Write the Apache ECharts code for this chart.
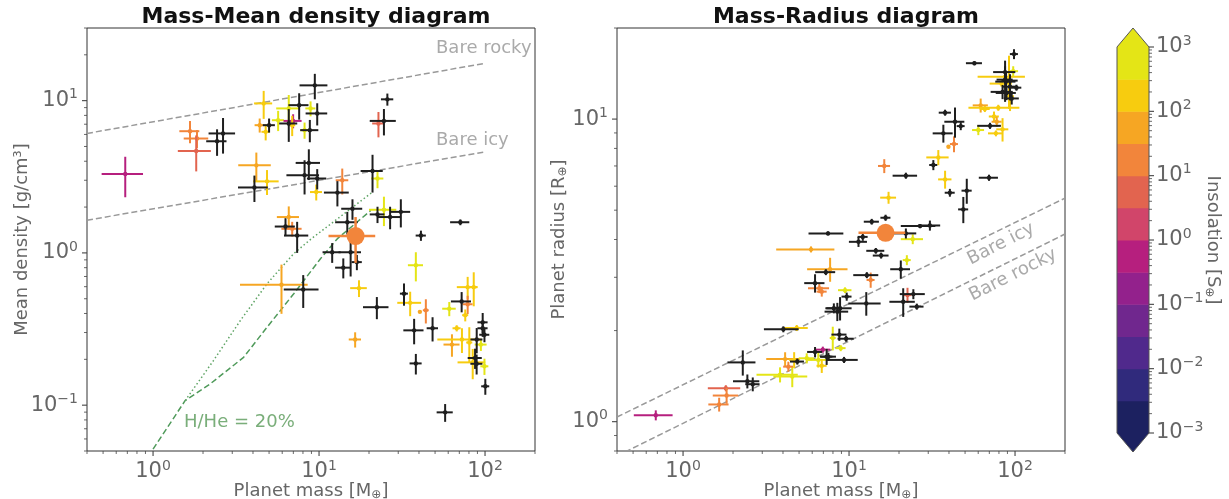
<!DOCTYPE html>
<html>
<head>
<meta charset="utf-8">
<script src="https://cdn.jsdelivr.net/npm/echarts@6.0.0/dist/echarts.min.js"></script>
<style>
  html, body { margin: 0; background: #fff; }
  #chart { width: 1229px; height: 499px; }
</style>
</head>
<body>
<div id="chart"></div>
<script>
// ---------------- data ----------------
// mass-density panel
var leftMass = [0.68, 1.67, 1.84, 1.82, 2.64, 2.43, 4.64, 4.39, 5.0, 4.77, 5.67, 6.57, 6.98, 6.57, 7.59, 8.89, 9.75, 9.43, 8.18, 8.8, 6.89, 25.8, 24.6, 22.8, 4.19, 4.86, 4.08, 8.68, 8.18, 9.75, 9.62, 13.8, 12.9, 21.0, 22.5, 15.9, 14.8, 24.6, 22.5, 26.8, 31.1, 6.57, 6.28, 6.89, 7.38, 5.94, 8.03, 12.0, 15.5, 14.0, 16.9, 17.4, 22.3, 16.5, 32.5, 35.4, 38.3, 41.1, 40.5, 44.0, 37.4, 48.3, 38.3, 57.5, 71.0, 60.9, 72.3, 78.6, 85.5, 78.6, 76.0, 67.5, 63.2, 72.6, 80.4, 96.8, 89.1, 96.8, 99.2, 94.4, 87.1, 89.0, 84.3, 99.2, 100.4];
var leftMassErr = [0.19, 0.23, 0.31, 0.41, 0.48, 0.34, 0.58, 0.3, 0.42, 0.27, 0.47, 1.05, 0.87, 0.82, 1.05, 0.62, 1.45, 1.8, 0.46, 1.1, 0.3, 2.2, 4.4, 1.9, 0.93, 0.85, 0.83, 1.45, 1.82, 1.3, 0.8, 1.2, 2.2, 3.2, 1.9, 2.3, 2.3, 4.6, 2.3, 4.4, 4.3, 1.0, 0.87, 0.96, 1.23, 2.6, 1.9, 1.5, 2.4, 1.5, 1.2, 2.0, 3.9, 1.4, 1.8, 5.8, 4.0, 2.9, 0.5, 1.8, 5.2, 3.8, 3.2, 6.4, 9.4, 5.7, 10, 11, 4.8, 5.5, 3.2, 3.8, 7, 21, 3.4, 6.8, 7.4, 6.8, 6.9, 7.8, 8.5, 7.4, 16, 5.5, 5.6];
var leftDensity = [3.3, 6.3, 5.64, 4.67, 6.09, 5.41, 9.59, 6.9, 6.9, 6.24, 7.44, 8.89, 7.36, 7.08, 9.34, 8.89, 8.24, 12.6, 6.4, 6.4, 6.9, 10.2, 7.36, 7.08, 3.76, 2.95, 2.69, 3.9, 3.24, 3.08, 2.51, 3.0, 2.49, 3.45, 3.08, 1.95, 1.59, 1.92, 1.79, 1.72, 1.86, 1.72, 1.49, 1.44, 1.30, 0.618, 0.575, 1.01, 1.01, 0.80, 0.87, 0.587, 0.44, 0.27, 0.54, 0.47, 0.83, 1.30, 0.41, 0.42, 0.31, 0.32, 0.188, 0.0897, 1.59, 0.43, 0.48, 0.596, 0.596, 0.46, 0.39, 0.32, 0.25, 0.27, 0.258, 0.35, 0.27, 0.32, 0.29, 0.25, 0.204, 0.187, 0.191, 0.18, 0.133];
var leftDensityErr = [0.98, 1.05, 0.77, 1.24, 1.6, 1.07, 2.0, 0.73, 0.73, 0.76, 1.13, 2.0, 0.78, 1.72, 1.84, 1.0, 1.37, 2.4, 0.78, 1.07, 1.05, 0.93, 1.45, 1.34, 0.8, 0.55, 0.53, 0.89, 0.82, 0.47, 0.3, 0.58, 0.47, 0.96, 0.42, 0.3, 0.27, 0.42, 0.22, 0.29, 0.39, 0.3, 0.2, 0.16, 0.3, 0.22, 0.14, 0.15, 0.31, 0.12, 0.1, 0.074, 0.073, 0.031, 0.09, 0.086, 0.18, 0.1, 0.005, 0.076, 0.059, 0.058, 0.029, 0.012, 0.07, 0.046, 0.073, 0.1, 0.15, 0.063, 0.035, 0.015, 0.042, 0.05, 0.067, 0.053, 0.051, 0.039, 0.031, 0.023, 0.031, 0.028, 0.043, 0.022, 0.016];
var leftInsol = [0.6, 20, 20, 6, null, null, 200, 60, null, 200, 500, 500, 0.6, null, null, 500, null, null, 500, null, 200, null, null, 6, 60, 200, null, null, null, null, 200, 20, null, null, 500, null, null, 500, null, null, null, 60, null, 20, null, 60, null, null, null, null, null, 200, null, 60, null, 200, 500, null, 60, 25, null, null, null, null, null, 500, null, 200, 200, 25, 200, 200, 60, 200, 200, null, null, null, null, 500, null, null, 200, 500, null];

// mass-radius panel
var rightMass = [0.685, 1.81, 1.83, 1.65, 2.29, 2.44, 2.63, 3.84, 4.55, 4.12, 4.31, 4.67, 4.88, 5.56, 4.02, 4.84, 6.24, 6.95, 6.53, 6.85, 7.33, 5.90, 7.69, 7.25, 6.24, 6.62, 6.85, 12.8, 13.5, 20.5, 22.3, 14.5, 15.6, 21.2, 22.5, 24.4, 25.6, 12.7, 8.83, 8.1, 8.5, 9.46, 9.68, 8.74, 7.98, 9.6, 8.91, 7.51, 9.33, 98.6, 56.9, 87.1, 97.5, 87.1, 88.3, 82.9, 93.3, 102, 84.1, 88.8, 95.5, 93.3, 62.1, 79.3, 65.8, 74.7, 77.6, 70.7, 84.1, 76.7, 60.1, 37.9, 43.5, 47.1, 37.0, 39.7, 42.9, 34.5, 32.2, 37.9, 40.5, 51.2, 48.8, 69.7, 16.3, 22.0, 17.3, 13.7, 16.6, 7.47, 11.4, 12.1, 22.0, 26.8, 30.7, 24.2, 87.1, 92.0, 93.3];
var rightMassErr = [0.18, 0.40, 0.32, 0.23, 0.44, 0.44, 0.26, 1.07, 1.05, 0.95, 0.3, 0.32, 0.47, 0.58, 0.95, 0.8, 0.65, 0.77, 1.0, 0.48, 0.61, 2.26, 2.1, 1.0, 0.87, 0.96, 0.48, 2.2, 0.75, 2.8, 1.24, 1.8, 1.7, 3.7, 1.25, 4.2, 2.5, 2.8, 1.53, 0.9, 1.38, 0.88, 0.67, 0.91, 0.33, 1.07, 0.62, 0.83, 1.95, 5.5, 6.3, 27.6, 6.8, 13.3, 12.3, 12.6, 9.1, 7.1, 12.8, 12.3, 9.9, 5.2, 6.5, 26.9, 4.6, 5.2, 5.4, 11.5, 7.0, 8.0, 5.0, 3.2, 6.0, 2.6, 5.1, 0.5, 2.4, 5.3, 1.8, 3.5, 2.8, 3.6, 3.4, 9.2, 1.36, 3.7, 1.9, 1.43, 1.15, 1.77, 1.42, 0.84, 3.4, 6.3, 4.7, 3.7, 9.7, 2.6, 10.4];
var rightRadius = [1.05, 1.29, 1.22, 1.14, 1.57, 1.36, 1.33, 1.43, 1.41, 1.61, 1.52, 1.60, 1.58, 1.62, 2.02, 2.04, 1.70, 1.73, 1.60, 1.53, 1.64, 3.71, 3.19, 3.12, 2.87, 2.76, 2.69, 3.05, 2.94, 3.19, 3.42, 3.67, 3.54, 2.49, 2.62, 2.64, 2.40, 2.46, 2.37, 2.37, 2.31, 2.72, 2.59, 1.94, 1.89, 1.88, 1.75, 1.64, 1.60, 16.4, 15.3, 13.8, 14.4, 14.3, 13.3, 13.1, 12.8, 12.7, 12.3, 12.2, 11.7, 11.9, 11.1, 10.9, 10.8, 10.2, 9.80, 9.50, 9.25, 8.97, 9.20, 10.5, 9.80, 9.48, 8.97, 8.10, 8.27, 7.47, 7.05, 6.32, 5.71, 5.80, 5.03, 6.40, 7.0, 6.50, 5.50, 4.58, 4.72, 4.19, 3.93, 4.08, 4.19, 4.43, 4.45, 4.01, 13.5, 13.5, 13.4];
var rightRadiusErr = [0.04, 0.03, 0.074, 0.06, 0.15, 0.072, 0.07, 0.082, 0.11, 0.086, 0.058, 0.097, 0.036, 0.062, 0.046, 0.047, 0.065, 0.04, 0.091, 0.081, 0.1, 0.085, 0.29, 0.07, 0.2, 0.1, 0.1, 0.07, 0.17, 0.22, 0.13, 0.08, 0.08, 0.27, 0.15, 0.1, 0.055, 0.22, 0.21, 0.09, 0.16, 0.06, 0.08, 0.09, 0.17, 0.043, 0.04, 0.05, 0.037, 0.62, 0.23, 0.32, 0.55, 0.65, 1.0, 0.3, 1.27, 0.29, 0.66, 0.65, 0.53, 1.27, 0.59, 0.25, 0.25, 0.39, 0.37, 0.22, 0.82, 0.2, 0.35, 0.24, 1.12, 0.29, 0.61, 0.05, 0.5, 0.43, 0.27, 0.43, 0.17, 0.55, 0.5, 0.15, 0.37, 0.15, 0.25, 0.1, 0.11, 0.064, 0.15, 0.12, 0.16, 0.07, 0.17, 0.15, 2.1, 2.7, 0.3];
var rightInsol = [0.6, 6, 20, 20, null, null, null, 500, 500, 60, 20, 200, null, 500, null, 200, null, 0.6, 500, 200, null, 60, 60, null, null, 20, 20, null, 20, null, 500, null, null, null, 6, null, null, null, null, null, null, 500, null, null, 500, null, 500, null, null, null, null, 200, 500, null, null, 200, null, null, null, null, null, 200, 60, 200, 200, 200, 60, null, 200, 200, 500, null, null, null, null, 60, 25, 200, null, 200, null, null, null, null, 20, null, 200, null, null, null, null, null, null, null, null, 500, null, 200, null];

// highlighted planet (big orange dot)
var targetMass = [16.6];
var targetMassErr = [5.2];
var targetDensity = [1.29];
var targetDensityErr = [0.43];
var targetRadius = [4.21];
var targetRadiusErr = [0.13];
var targetInsol = [20];

// composition curves
var rockyMassL = [0.4, 100], rockyDensity = [6.09, 17.6];
var icyMassL = [0.4, 100], icyDensity = [1.64, 4.61];
var icyMassR = [0.4, 200], icyRadius = [1.036, 5.48];
var rockyMassR = [0.4, 200], rockyRadius = [0.77, 4.17];
var hheMassDashed = [1.0, 1.56, 2.21, 3.51, 4.86, 7.04, 10.2, 12.9, 20.5];
var hheDensityDashed = [0.0515, 0.107, 0.138, 0.206, 0.325, 0.539, 0.916, 1.24, 1.90];
var hheMassDotted = [1.56, 2.31, 3.36, 4.86, 7.04, 9.0, 21.0];
var hheDensityDotted = [0.107, 0.196, 0.36, 0.627, 0.99, 1.24, 2.51];

// insolation colour scale (S_earth), bottom to top
var insolBounds = [0.001, 0.00316, 0.01, 0.0316, 0.1, 0.316, 1, 3.16, 10, 31.6, 100, 316, 1000];
var insolColors = ['#1c2160', '#302a7c', '#50298c', '#70278e', '#93218c', '#b61f7e', '#d1456a', '#e2644f', '#f2853b', '#f6a623', '#f7cc0f', '#e4e516'];

var massRange = [0.4, 200];
var densityRange = [0.05, 30];
var radiusRange = [0.8, 20];
var insolRange = [0.001, 1000];

// ---------------- helpers ----------------
var FONT = 'DejaVu Sans';
var GRAY = '#666';

function insolColor(s) {
  if (s == null || s < 0) return '#1e1e1e';
  for (var i = 0; i < insolColors.length; i++) {
    if (s < insolBounds[i + 1]) return insolColors[i];
  }
  return insolColors[insolColors.length - 1];
}

function pairs(xs, ys) {
  return xs.map(function (x, i) { return [x, ys[i]]; });
}

function errData(m, dm, y, dy, s) {
  var out = m.map(function (v, i) {
    return [v, dm[i], y[i], dy[i], s[i] == null ? -1 : s[i]];
  });
  // coloured first, black ones on top
  out.sort(function (a, b) { return (a[4] < 0 ? 1 : 0) - (b[4] < 0 ? 1 : 0); });
  return out;
}

function makeErrRender(dotR, lw) {
  return function (params, api) {
    var m = api.value(0), dm = api.value(1), y = api.value(2), dy = api.value(3);
    var c = insolColor(api.value(4));
    var p = api.coord([m, y]);
    var xa = api.coord([Math.max(m - dm, m * 0.05), y])[0];
    var xb = api.coord([m + dm, y])[0];
    var ya = api.coord([m, Math.max(y - dy, y * 0.05)])[1];
    var yb = api.coord([m, y + dy])[1];
    return {
      type: 'group',
      children: [
        { type: 'line', shape: { x1: xa, y1: p[1], x2: xb, y2: p[1] }, style: { stroke: c, lineWidth: lw } },
        { type: 'line', shape: { x1: p[0], y1: ya, x2: p[0], y2: yb }, style: { stroke: c, lineWidth: lw } },
        { type: 'circle', shape: { cx: p[0], cy: p[1], r: dotR }, style: { fill: c } }
      ]
    };
  };
}

// minor + major ticks like a log axis in matplotlib
function logTicks(lo, hi) {
  var out = [];
  for (var k = -4; k <= 4; k++) {
    for (var j = 1; j <= 9; j++) {
      var v = j * Math.pow(10, k);
      if (v >= lo * 0.999 && v <= hi * 1.001) out.push([v, j === 1]);
    }
  }
  return out;
}

function tickData(xr, yr) {
  var out = [];
  logTicks(xr[0], xr[1]).forEach(function (t) { out.push([t[0], yr[0], t[1] ? 0 : 1]); });
  logTicks(yr[0], yr[1]).forEach(function (t) { out.push([xr[0], t[0], t[1] ? 2 : 3]); });
  return out;
}

function renderTick(params, api) {
  var kind = api.value(2);
  var p = api.coord([api.value(0), api.value(1)]);
  var major = kind % 2 === 0;
  var len = major ? 5 : 3;
  var shape;
  if (kind < 2) shape = { x1: p[0], y1: p[1], x2: p[0], y2: p[1] + len };
  else if (kind < 4) shape = { x1: p[0] - len, y1: p[1], x2: p[0], y2: p[1] };
  else shape = { x1: p[0], y1: p[1], x2: p[0] + len, y2: p[1] };
  return { type: 'line', shape: shape, style: { stroke: '#444', lineWidth: major ? 1.1 : 0.8 } };
}

function renderColorbar(params, api) {
  var i = api.value(3);
  var a = api.coord([0, api.value(1)]);
  var b = api.coord([1, api.value(2)]);
  var cx = (a[0] + b[0]) / 2, tip = 19;
  var children = [{
    type: 'rect',
    shape: { x: a[0], y: b[1], width: b[0] - a[0], height: a[1] - b[1] + 0.5 },
    style: { fill: insolColors[i] }
  }];
  if (i === 0) {
    children.push({ type: 'polygon', shape: { points: [[a[0], a[1]], [b[0], a[1]], [cx, a[1] + tip]] }, style: { fill: insolColors[0] } });
  }
  if (i === insolColors.length - 1) {
    var lo = api.coord([0, insolBounds[0]]);
    children.push({ type: 'polygon', shape: { points: [[a[0], b[1]], [b[0], b[1]], [cx, b[1] - tip]] }, style: { fill: insolColors[i] } });
    children.push({
      type: 'polygon',
      shape: { points: [[a[0], b[1]], [cx, b[1] - tip], [b[0], b[1]], [b[0], lo[1]], [cx, lo[1] + tip], [a[0], lo[1]]] },
      style: { fill: 'none', stroke: '#555', lineWidth: 1 }
    });
  }
  return { type: 'group', children: children };
}

function powLabel(v) {
  var e = Math.log(v) / Math.LN10;
  var r = Math.round(e);
  if (Math.abs(e - r) > 1e-6) return '';
  return '{b|10}{s|' + (r < 0 ? '\u2212' + (-r) : r) + '}';
}

var powRich = {
  b: { fontFamily: FONT, fontSize: 21, color: GRAY, lineHeight: 26 },
  s: { fontFamily: FONT, fontSize: 14, color: GRAY, lineHeight: 14, verticalAlign: 'top' }
};
var nameRich = {
  n: { fontFamily: FONT, fontSize: 18, color: GRAY },
  sub: { fontFamily: FONT, fontSize: 12, color: GRAY, verticalAlign: 'bottom', padding: [8, 0, 0, 0] }
};

function logAxis(grid, range, extra) {
  var ax = {
    gridIndex: grid,
    type: 'log',
    logBase: 10,
    min: range[0],
    max: range[1],
    axisLine: { show: false },
    axisTick: { show: false },
    splitLine: { show: false },
    axisLabel: { formatter: powLabel, rich: powRich, margin: 9 },
    nameLocation: 'middle',
    nameMoveOverlap: false,
    nameTextStyle: { fontFamily: FONT, fontSize: 18, color: GRAY, rich: nameRich }
  };
  for (var k in extra) ax[k] = extra[k];
  return ax;
}

function dashedLine(xi, xs, ys, color, type) {
  return {
    type: 'line', xAxisIndex: xi, yAxisIndex: xi, data: pairs(xs, ys),
    showSymbol: false, silent: true, z: 1,
    lineStyle: { color: color, width: 1.5, type: type }
  };
}

function note(text, x, y, color, align, rot) {
  return {
    type: 'text', x: x, y: y, rotation: rot || 0,
    style: {
      text: text, fill: color, font: '18px "DejaVu Sans"',
      textAlign: align, textVerticalAlign: 'middle', align: align, verticalAlign: 'middle'
    }
  };
}

// ---------------- chart ----------------
var chart = echarts.init(document.getElementById('chart'));

var xLabel = { formatter: powLabel, rich: powRich, margin: 8 };
var titleStyle = { fontFamily: FONT, fontSize: 22, fontWeight: 'bold', color: '#111' };

var option = {
  animation: false,
  textStyle: { fontFamily: FONT },
  title: [
    { text: 'Mass-Mean density diagram', left: 311, top: 1, textAlign: 'center', textStyle: titleStyle },
    { text: 'Mass-Radius diagram', left: 841, top: 1, textAlign: 'center', textStyle: titleStyle }
  ],
  grid: [
    { left: 87, top: 28, width: 448, height: 423, show: true, borderColor: '#333', borderWidth: 1,
      containLabel: false, outerBoundsMode: 'none' },
    { left: 617, top: 28, width: 448, height: 423, show: true, borderColor: '#333', borderWidth: 1,
      containLabel: false, outerBoundsMode: 'none' },
    { left: 1117, top: 47, width: 32, height: 386, containLabel: false, outerBoundsMode: 'none' }
  ],
  xAxis: [
    logAxis(0, massRange, { name: '{n|Planet mass [M}{sub|\u2295}{n|]}', nameGap: 30, axisLabel: xLabel }),
    logAxis(1, massRange, { name: '{n|Planet mass [M}{sub|\u2295}{n|]}', nameGap: 30, axisLabel: xLabel }),
    { gridIndex: 2, type: 'value', min: 0, max: 1, show: false }
  ],
  yAxis: [
    logAxis(0, densityRange, { name: 'Mean density [g/cm\u00b3]', nameGap: 56 }),
    logAxis(1, radiusRange, { name: '{n|Planet radius [R}{sub|\u2295}{n|]}', nameGap: 48 }),
    logAxis(2, insolRange, {
      position: 'right', name: '{n|Insolation [S}{sub|\u2295}{n|]}', nameGap: 54, nameRotate: -90,
      axisLabel: { formatter: powLabel, rich: powRich, margin: 7 }
    })
  ],
  graphic: [
    note('Bare rocky', 436, 48, '#aaa', 'left'),
    note('Bare icy', 436, 140, '#aaa', 'left'),
    note('H/He = 20%', 184, 422, '#7aae7a', 'left'),
    note('Bare icy', 1001, 244, '#aaa', 'center', 0.47),
    note('Bare rocky', 1013, 275, '#aaa', 'center', 0.47)
  ],
  series: [
    dashedLine(0, rockyMassL, rockyDensity, '#999', [6, 3]),
    dashedLine(0, icyMassL, icyDensity, '#999', [6, 3]),
    dashedLine(0, hheMassDashed, hheDensityDashed, '#4f9a5a', [6, 3]),
    dashedLine(0, hheMassDotted, hheDensityDotted, '#5fa465', [1.5, 2.5]),
    dashedLine(1, icyMassR, icyRadius, '#999', [6, 3]),
    dashedLine(1, rockyMassR, rockyRadius, '#999', [6, 3]),
    {
      type: 'custom', xAxisIndex: 0, yAxisIndex: 0, clip: true, z: 3,
      renderItem: makeErrRender(2.2, 2), encode: { x: 0, y: 2 },
      data: errData(leftMass, leftMassErr, leftDensity, leftDensityErr, leftInsol)
    },
    {
      type: 'custom', xAxisIndex: 0, yAxisIndex: 0, clip: true, z: 4,
      renderItem: makeErrRender(9, 2.5), encode: { x: 0, y: 2 },
      data: errData(targetMass, targetMassErr, targetDensity, targetDensityErr, targetInsol)
    },
    {
      type: 'custom', xAxisIndex: 1, yAxisIndex: 1, clip: true, z: 3,
      renderItem: makeErrRender(2.2, 2), encode: { x: 0, y: 2 },
      data: errData(rightMass, rightMassErr, rightRadius, rightRadiusErr, rightInsol)
    },
    {
      type: 'custom', xAxisIndex: 1, yAxisIndex: 1, clip: true, z: 4,
      renderItem: makeErrRender(9, 2.5), encode: { x: 0, y: 2 },
      data: errData(targetMass, targetMassErr, targetRadius, targetRadiusErr, targetInsol)
    },
    {
      type: 'custom', xAxisIndex: 0, yAxisIndex: 0, silent: true, clip: false,
      renderItem: renderTick, encode: { x: 0, y: 1 },
      data: tickData(massRange, densityRange)
    },
    {
      type: 'custom', xAxisIndex: 1, yAxisIndex: 1, silent: true, clip: false,
      renderItem: renderTick, encode: { x: 0, y: 1 },
      data: tickData(massRange, radiusRange)
    },
    {
      type: 'custom', xAxisIndex: 2, yAxisIndex: 2, silent: true, clip: false,
      renderItem: renderColorbar, encode: { x: 0, y: 1 },
      data: insolColors.map(function (c, i) { return [0.5, insolBounds[i], insolBounds[i + 1], i]; })
    },
    {
      type: 'custom', xAxisIndex: 2, yAxisIndex: 2, silent: true, clip: false, z: 5,
      renderItem: renderTick, encode: { x: 0, y: 1 },
      data: logTicks(insolRange[0], insolRange[1]).map(function (t) { return [1, t[0], t[1] ? 4 : 5]; })
    }
  ]
};

chart.setOption(option);
</script>
</body>
</html>
